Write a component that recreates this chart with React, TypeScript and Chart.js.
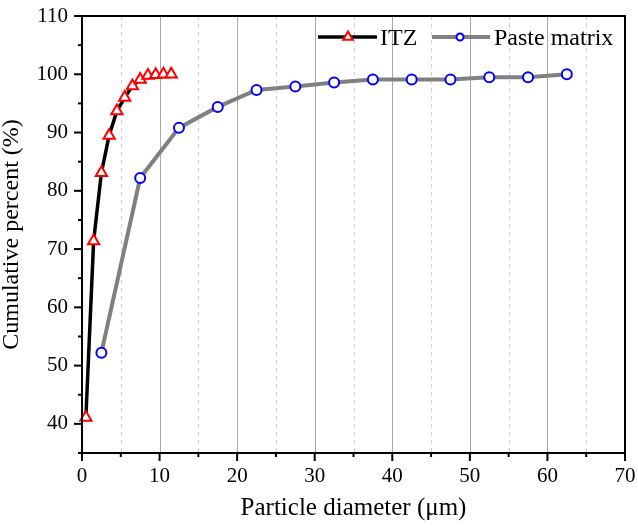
import React, { useEffect, useRef } from "react";
import { Chart, registerables } from "chart.js";

Chart.register(...registerables);

const itzX = [0.5, 1.5, 2.5, 3.5, 4.5, 5.5, 6.5, 7.5, 8.5, 9.5, 10.5, 11.5];
const itzY = [41.1, 71.4, 83.1, 89.5, 93.7, 96.0, 98.0, 99.1, 99.8, 99.9, 100.0, 100.0];
const pasteX = [2.5, 7.5, 12.5, 17.5, 22.5, 27.5, 32.5, 37.5, 42.5, 47.5, 52.5, 57.5, 62.5];
const pasteY = [52.2, 82.2, 90.8, 94.4, 97.3, 97.9, 98.6, 99.1, 99.1, 99.1, 99.5, 99.5, 100.0];
const seriesNames = ["ITZ", "Paste matrix"];
const xTitle = "Particle diameter (\u03bcm)";
const yTitle = "Cumulative percent (%)";

const FONT = "'Liberation Serif', 'Times New Roman', serif";

const framePlugin = {
  id: "framePlugin",
  beforeDatasetsDraw(chart: any) {
    const { ctx, chartArea } = chart;
    const xs = chart.scales.x;
    ctx.save();
    for (let v = 5; v < 70; v += 5) {
      const px = Math.round(xs.getPixelForValue(v)) + 0.5;
      ctx.beginPath();
      if (v % 10 === 0) {
        ctx.setLineDash([]);
        ctx.strokeStyle = "#a8a8a8";
      } else {
        ctx.setLineDash([4, 4]);
        ctx.strokeStyle = "#cfcfcf";
      }
      ctx.lineWidth = 1;
      ctx.moveTo(px, chartArea.top);
      ctx.lineTo(px, chartArea.bottom);
      ctx.stroke();
    }
    ctx.restore();
  },
  afterDraw(chart: any) {
    const { ctx, chartArea } = chart;
    const xs = chart.scales.x;
    const ys = chart.scales.y;
    ctx.save();
    ctx.setLineDash([]);
    ctx.strokeStyle = "#000";
    ctx.lineWidth = 2;
    ctx.strokeRect(chartArea.left, chartArea.top, chartArea.right - chartArea.left, chartArea.bottom - chartArea.top);
    for (let v = 0; v <= 70; v += 5) {
      const px = xs.getPixelForValue(v);
      const len = v % 10 === 0 ? 8 : 4;
      ctx.beginPath();
      ctx.moveTo(px, chartArea.bottom);
      ctx.lineTo(px, chartArea.bottom + len);
      ctx.stroke();
    }
    for (let v = 35; v <= 110; v += 5) {
      const py = ys.getPixelForValue(v);
      const len = v % 10 === 0 ? 8 : 4;
      ctx.beginPath();
      ctx.moveTo(chartArea.left, py);
      ctx.lineTo(chartArea.left - len, py);
      ctx.stroke();
    }
    // legend
    const ly = chartArea.top + 21;
    const r = chartArea.right;
    ctx.lineWidth = 3.5;
    ctx.strokeStyle = "#000";
    ctx.beginPath();
    ctx.moveTo(r - 307, ly);
    ctx.lineTo(r - 248, ly);
    ctx.stroke();
    const tx = r - 277;
    const tr = 5.5;
    ctx.fillStyle = "#fff";
    ctx.strokeStyle = "#ff0000";
    ctx.lineWidth = 2;
    ctx.beginPath();
    ctx.moveTo(tx, ly - tr);
    ctx.lineTo(tx + tr * 0.866, ly + tr * 0.5);
    ctx.lineTo(tx - tr * 0.866, ly + tr * 0.5);
    ctx.closePath();
    ctx.fill();
    ctx.stroke();
    ctx.font = `24px ${FONT}`;
    ctx.fillStyle = "#000";
    ctx.textBaseline = "middle";
    ctx.textAlign = "left";
    ctx.fillText(seriesNames[0], r - 245, ly + 2);
    ctx.strokeStyle = "#808080";
    ctx.lineWidth = 4;
    ctx.beginPath();
    ctx.moveTo(r - 193, ly);
    ctx.lineTo(r - 135, ly);
    ctx.stroke();
    ctx.strokeStyle = "#0000ff";
    ctx.fillStyle = "#fff";
    ctx.lineWidth = 2;
    ctx.beginPath();
    ctx.arc(r - 165, ly, 3.5, 0, Math.PI * 2);
    ctx.fill();
    ctx.stroke();
    ctx.fillStyle = "#000";
    ctx.fillText(seriesNames[1], r - 131, ly + 2);
    ctx.restore();
  },
};

export default function App() {
  const ref = useRef<HTMLCanvasElement | null>(null);
  useEffect(() => {
    if (!ref.current) return;
    const chart = new Chart(ref.current, {
      type: "scatter",
      data: {
        datasets: [
          {
            label: seriesNames[0],
            data: itzX.map((x, i) => ({ x, y: itzY[i] })),
            showLine: true,
            borderColor: "#000",
            borderWidth: 3.5,
            pointStyle: "triangle",
            pointRadius: 6.5,
            pointBorderColor: "#ff0000",
            pointBackgroundColor: "#fff",
            pointBorderWidth: 2,
            clip: false,
          } as any,
          {
            label: seriesNames[1],
            data: pasteX.map((x, i) => ({ x, y: pasteY[i] })),
            showLine: true,
            borderColor: "#808080",
            borderWidth: 4,
            pointStyle: "circle",
            pointRadius: 5,
            pointBorderColor: "#0000ff",
            pointBackgroundColor: "#fff",
            pointBorderWidth: 2,
            clip: false,
          } as any,
        ],
      },
      options: {
        animation: false,
        responsive: true,
        maintainAspectRatio: false,
        layout: { padding: { left: 0, right: 13, top: 16, bottom: 0 } },
        plugins: { legend: { display: false }, tooltip: { enabled: false } },
        scales: {
          x: {
            type: "linear",
            min: 0,
            max: 70,
            afterFit: (s: any) => {
              s.height = 76;
              s.paddingLeft = 0;
              s.paddingRight = 0;
            },
            grid: { display: false, drawTicks: false },
            border: { display: false },
            ticks: {
              stepSize: 5,
              padding: 11,
              color: "#000",
              font: { family: FONT, size: 21 },
              callback: (v: any) => (Number(v) % 10 === 0 ? String(v) : ""),
              maxRotation: 0,
              autoSkip: false,
            },
            title: {
              display: true,
              text: xTitle,
              color: "#000",
              font: { family: FONT, size: 25, lineHeight: 1 },
              padding: { top: 0, bottom: 8 },
            },
          },
          y: {
            type: "linear",
            min: 35,
            max: 110,
            afterFit: (s: any) => {
              s.width = 82;
              s.paddingTop = 0;
              s.paddingBottom = 0;
            },
            grid: { display: false, drawTicks: false },
            border: { display: false },
            ticks: {
              stepSize: 5,
              padding: 14,
              color: "#000",
              font: { family: FONT, size: 21 },
              callback: (v: any) => (Number(v) % 10 === 0 ? String(v) : ""),
              autoSkip: false,
            },
            title: {
              display: true,
              text: yTitle,
              color: "#000",
              font: { family: FONT, size: 24, lineHeight: 1 },
              padding: { top: 0, bottom: 0 },
            },
          },
        },
      },
      plugins: [framePlugin],
    });
    return () => chart.destroy();
  }, []);
  return (
    <div style={{ position: "absolute", left: 0, top: 0, width: 638, height: 529 }}>
      <canvas ref={ref} />
    </div>
  );
}
